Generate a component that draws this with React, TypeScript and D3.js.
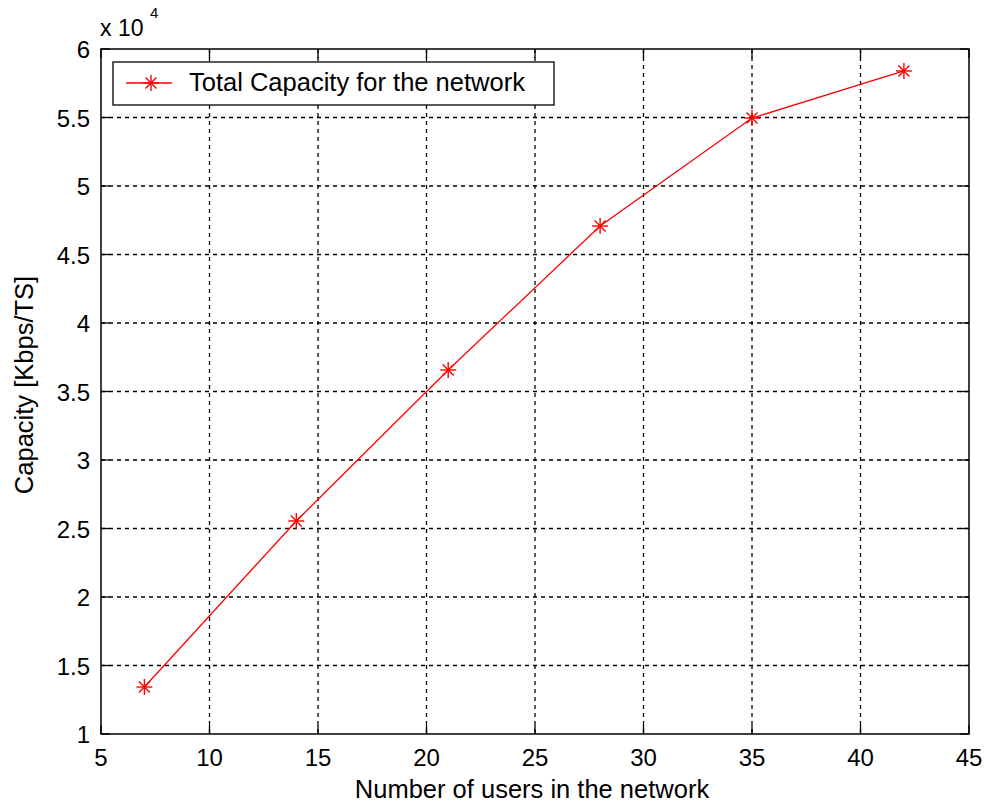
import React from "react";
import * as d3 from "d3";

const users = [7, 14, 21, 28, 35, 42];
const capacity = [13430, 25550, 36570, 47080, 54960, 58400];
const xTicks = [5, 10, 15, 20, 25, 30, 35, 40, 45];
const yTicks = [1, 1.5, 2, 2.5, 3, 3.5, 4, 4.5, 5, 5.5, 6];
const seriesName = "Total Capacity for the network";

export default function App() {
  const W = 984, H = 805;
  const L = 101, R = 969, T = 49, B = 734;
  const x = d3.scaleLinear().domain([5, 45]).range([L, R]);
  const y = d3.scaleLinear().domain([1, 6]).range([B, T]);
  const line = d3.line<number>().x((_, i) => x(users[i])).y((d) => y(d / 1e4));
  const font = "'Liberation Sans', Arial, sans-serif";
  const star = (cx: number, cy: number, k: string) => {
    const s = 8, d = 5.5;
    return (
      <g key={k} stroke="#ff0000" strokeWidth={1.4}>
        <line x1={cx - s} y1={cy} x2={cx + s} y2={cy} />
        <line x1={cx} y1={cy - s} x2={cx} y2={cy + s} />
        <line x1={cx - d} y1={cy - d} x2={cx + d} y2={cy + d} />
        <line x1={cx - d} y1={cy + d} x2={cx + d} y2={cy - d} />
      </g>
    );
  };
  return (
    <svg width={W} height={H} style={{ position: "absolute", left: 0, top: 0, background: "#fff" }}>
      <rect x={0} y={0} width={W} height={H} fill="#fff" />
      <g stroke="#000" strokeWidth={1.3} strokeDasharray="4,4">
        {xTicks.slice(1, -1).map((t) => (
          <line key={"gx" + t} x1={x(t)} x2={x(t)} y1={T} y2={B} />
        ))}
        {yTicks.slice(1, -1).map((t) => (
          <line key={"gy" + t} x1={L} x2={R} y1={y(t)} y2={y(t)} />
        ))}
      </g>
      <g stroke="#000" strokeWidth={1.3}>
        {xTicks.map((t) => (
          <g key={"tx" + t}>
            <line x1={x(t)} x2={x(t)} y1={B} y2={B - 9} />
            <line x1={x(t)} x2={x(t)} y1={T} y2={T + 9} />
          </g>
        ))}
        {yTicks.map((t) => (
          <g key={"ty" + t}>
            <line x1={L} x2={L + 9} y1={y(t)} y2={y(t)} />
            <line x1={R} x2={R - 9} y1={y(t)} y2={y(t)} />
          </g>
        ))}
      </g>
      <rect x={L} y={T} width={R - L} height={B - T} fill="none" stroke="#000" strokeWidth={1.5} />
      <g fontFamily={font} fontSize={24} fill="#000">
        {xTicks.map((t) => (
          <text key={"lx" + t} x={x(t)} y={766} textAnchor="middle">{t}</text>
        ))}
        {yTicks.map((t) => (
          <text key={"ly" + t} x={L - 11} y={y(t) + 9} textAnchor="end">{t}</text>
        ))}
        <text x={100} y={36} fontSize={23}>x 10</text>
        <text x={150} y={18} fontSize={15}>4</text>
      </g>
      <g fontFamily={font} fontSize={25.5} fill="#000">
        <text x={(L + R) / 2 - 3} y={798} textAnchor="middle">Number of users in the network</text>
        <text transform={`translate(33,${385}) rotate(-90)`} textAnchor="middle">Capacity [Kbps/TS]</text>
      </g>
      <path d={line(capacity) || ""} fill="none" stroke="#ff0000" strokeWidth={1.3} />
      {capacity.map((c, i) => star(x(users[i]), y(c / 1e4), "m" + i))}
      <rect x={113} y={62} width={441} height={43} fill="#fff" stroke="#000" strokeWidth={1.3} />
      <line x1={126} x2={172} y1={83} y2={83} stroke="#ff0000" strokeWidth={1.3} />
      {star(151, 83, "leg")}
      <text x={189} y={91} fontFamily={font} fontSize={25.5} fill="#000">{seriesName}</text>
    </svg>
  );
}
